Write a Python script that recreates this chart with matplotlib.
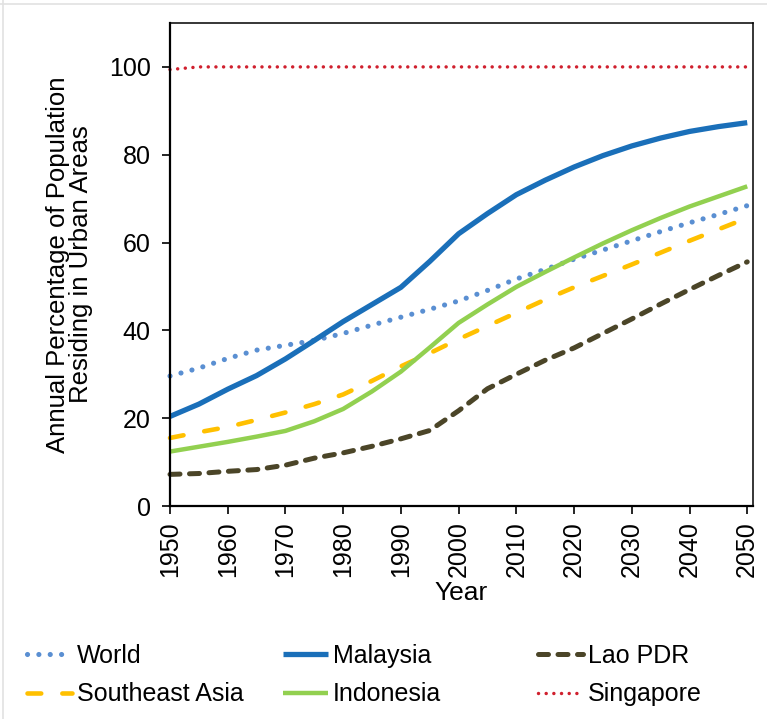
import matplotlib.pyplot as plt
from matplotlib.lines import Line2D

plt.rcParams['font.family'] = ['Liberation Sans', 'DejaVu Sans']

years = [1950, 1955, 1960, 1965, 1970, 1975, 1980, 1985, 1990, 1995, 2000,
         2005, 2010, 2015, 2020, 2025, 2030, 2035, 2040, 2045, 2050]

world = [29.6, 31.4, 33.6, 35.5, 36.6, 37.7, 39.3, 41.2, 43.0, 44.8, 46.7,
         49.1, 51.7, 53.9, 56.2, 58.3, 60.4, 62.5, 64.5, 66.4, 68.4]
malaysia = [20.4, 23.2, 26.6, 29.7, 33.5, 37.7, 42.0, 45.9, 49.8, 55.7, 62.0,
            66.6, 70.9, 74.2, 77.2, 79.8, 82.0, 83.8, 85.3, 86.4, 87.3]
lao = [7.2, 7.4, 7.9, 8.3, 9.3, 10.9, 12.1, 13.6, 15.3, 17.2, 21.7,
       26.7, 30.0, 33.2, 36.0, 39.3, 42.6, 46.0, 49.3, 52.5, 55.6]
se_asia = [15.5, 16.8, 18.0, 19.6, 21.3, 23.2, 25.4, 28.5, 31.8, 34.8, 38.0,
           41.0, 44.0, 47.0, 49.8, 52.4, 55.0, 57.7, 60.4, 63.0, 65.6]
indonesia = [12.4, 13.5, 14.6, 15.8, 17.1, 19.3, 22.1, 26.1, 30.6, 36.1, 41.7,
             45.9, 49.9, 53.3, 56.6, 59.8, 62.8, 65.6, 68.2, 70.5, 72.8]
singapore = [99.4, 100, 100, 100, 100, 100, 100, 100, 100, 100, 100,
             100, 100, 100, 100, 100, 100, 100, 100, 100, 100]

fig = plt.figure(figsize=(7.67, 7.19), dpi=100)
ax = fig.add_axes([170 / 767, 213 / 719, 583 / 767, 483 / 719])

l_world, = ax.plot(years, world, color='#5a8fd2', lw=3.7, linestyle=(0, (0.01, 2.2)),
                   dash_capstyle='round', clip_on=False, label='World')
l_mal, = ax.plot(years, malaysia, color='#1a6fb9', lw=3.8, solid_capstyle='butt',
                 label='Malaysia')
l_lao, = ax.plot(years, lao, color='#4b4528', lw=3.6, linestyle=(0, (2.0, 1.9)),
                 dash_capstyle='round', clip_on=False, label='Lao PDR')
l_sea, = ax.plot(years, se_asia, color='#ffc000', lw=3.3, linestyle=(0, (3.0, 4.6)),
                 dash_capstyle='round', clip_on=False, label='Southeast Asia')
l_ind, = ax.plot(years, indonesia, color='#92d050', lw=3.2, solid_capstyle='butt',
                 label='Indonesia')
l_sin, = ax.plot(years, singapore, color='#d0202e', lw=2.5, linestyle=(0, (0.01, 2.2)),
                 dash_capstyle='round', clip_on=False, label='Singapore')

ax.set_xlim(1950, 2051)
ax.set_ylim(0, 110)
ax.set_xticks(range(1950, 2051, 10))
ax.set_yticks(range(0, 101, 20))
ax.tick_params(axis='x', labelsize=18, length=6, width=1.2, pad=5, labelrotation=90)
ax.tick_params(axis='y', labelsize=18, length=6, width=1.2, pad=8)
for side in ['left', 'bottom']:
    ax.spines[side].set_linewidth(1.6)
for side in ['top', 'right']:
    ax.spines[side].set_linewidth(1.1)

ax.set_xlabel('Year', fontsize=19, labelpad=3)
ax.set_ylabel('Annual Percentage of Population\nResiding in Urban Areas',
              fontsize=18.5, labelpad=11, linespacing=0.95)

# legend laid out as three fixed-width columns, like the original
cols = [(27, [l_world, l_sea]), (283, [l_mal, l_ind]), (538, [l_lao, l_sin])]
for x0, handles in cols:
    fig.legend(handles=handles, loc='center left', bbox_to_anchor=(x0 / 767, 44 / 719),
               frameon=False, fontsize=18, handlelength=1.8, handletextpad=0.2,
               labelspacing=0.58, borderpad=0, borderaxespad=0)

# faint frame edge seen in the reference screenshot
fig.add_artist(Line2D([0, 1], [1 - 4 / 719] * 2, color='#e2e2e2', lw=1.2))
fig.add_artist(Line2D([3 / 767] * 2, [0, 1], color='#e2e2e2', lw=1.2))

fig.savefig('out.png', dpi=100)
